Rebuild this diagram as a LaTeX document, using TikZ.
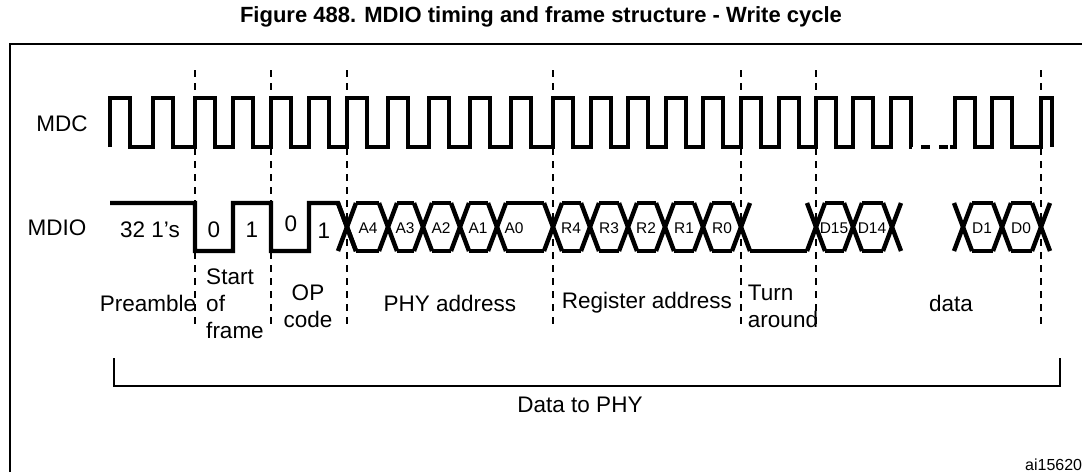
\documentclass[tikz,border=0pt]{standalone}
\usepackage{fontspec}
\setmainfont{Liberation Sans}
\tikzset{
  wave/.style={line width=4.4pt, line join=miter},
  sep/.style={line width=1.8pt, dash pattern=on 7pt off 6pt},
  lbl/.style={font=\fontsize{22.5}{27}\selectfont, inner sep=0pt, align=center},
  bit/.style={font=\fontsize{15.5}{18}\selectfont, inner sep=0pt},
}
\newcommand{\busx}[1]{%
  \draw[wave] (#1-9,203) -- (#1+9,251);
  \draw[wave] (#1-9,251) -- (#1+9,203);}
\newcommand{\busseg}[2]{%
  \draw[wave] (#1+9,203) -- (#2-9,203);
  \draw[wave] (#1+9,251) -- (#2-9,251);}
\begin{document}
\begin{tikzpicture}[x=1pt,y=-1pt]
  \useasboundingbox (0,0) rectangle (1082,472);
  % frame and title
  \draw[line width=1.8pt] (10,472) -- (10,44) -- (1082,44);
  \node[font=\bfseries\fontsize{22}{24}\selectfont] (title) at (541,17) {Figure 488. MDIO timing and frame structure - Write cycle};
  % signal names
  \node[lbl] (mdc) at (62,124) {MDC};
  \node[lbl] (mdio) at (57,228) {MDIO};
  % field separators
  \foreach \x in {195,271,347,553,741,816,1041}
    \draw[sep] (\x,70) -- (\x,330);
  % MDC clock
  \draw[wave] (110,147)
    \foreach \r in {110,153,195,233,271,309,347,388,429,470,511,553,591,628,666,703,741,779,816,853,891}
      { -- (\r,147) -- (\r,98) -- (\r+20,98) -- (\r+20,147) } -- (912,147);
  \draw[line width=4.4pt, dash pattern=on 9pt off 9pt] (921,147) -- (948,147);
  \draw[wave] (950,147)
    \foreach \r in {955,992}
      { -- (\r,147) -- (\r,98) -- (\r+20,98) -- (\r+20,147) } -- (1041,147) -- (1041,98) -- (1052,98) -- (1052,147);
  % MDIO preamble, start, op code
  \draw[wave] (110,203) -- (195,203) -- (195,251) -- (233,251) -- (233,203) -- (271,203)
    -- (271,251) -- (309,251) -- (309,203) -- (338,203) -- (356,251);
  % address bits
  \foreach \c in {347,388,423,460,497,553,590,628,665,703,741} { \busx{\c} }
  \foreach \a/\b in {347/388,388/423,423/460,460/497,497/553,553/590,590/628,628/665,665/703,703/741} { \busseg{\a}{\b} }
  % turn around and data
  \draw[wave] (750,251) -- (807,251);
  \foreach \c in {816,853,892,963,1002,1041} { \busx{\c} }
  \foreach \a/\b in {816/853,853/892,963/1002,1002/1041} { \busseg{\a}{\b} }
  % bit values
  \node[lbl] (pre) at (150,230) {32 1{\char"27}s};
  \node[lbl] (st0) at (214,230) {0};
  \node[lbl] (st1) at (252,230) {1};
  \node[lbl] (op0) at (291,224) {0};
  \node[lbl] (op1) at (324,231) {1};
  \foreach \t/\x in {A4/368,A3/405,A2/441,A1/478,A0/514,R4/571,R3/609,R2/646,R1/684,R0/722,D15/834,D14/872,D1/982,D0/1021}
    \node[bit] (b\t) at (\x,228) {\t};
  % field names
  \node[lbl] (preamble) at (148,303) {Preamble};
  \node[lbl, align=left] (start) at (235,304) {Start\\of\\frame};
  \node[lbl] (opcode) at (308,306) {OP\\code};
  \node[lbl] (phy) at (450,303) {PHY address};
  \node[lbl] (reg) at (647,303) {Register address};
  \node[lbl, align=left] (turn) at (783,306) {Turn\\around};
  \node[lbl] (data) at (951,303) {data};
  % data to PHY bracket
  \draw[line width=1.8pt] (114,358) -- (114,386) -- (1060,386) -- (1060,358);
  \node[lbl] (tophy) at (580,405) {Data to PHY};
  \node[font=\fontsize{16}{18}\selectfont, anchor=west, inner sep=0pt] (ref) at (1025,465) {ai15620};
\end{tikzpicture}
\end{document}
